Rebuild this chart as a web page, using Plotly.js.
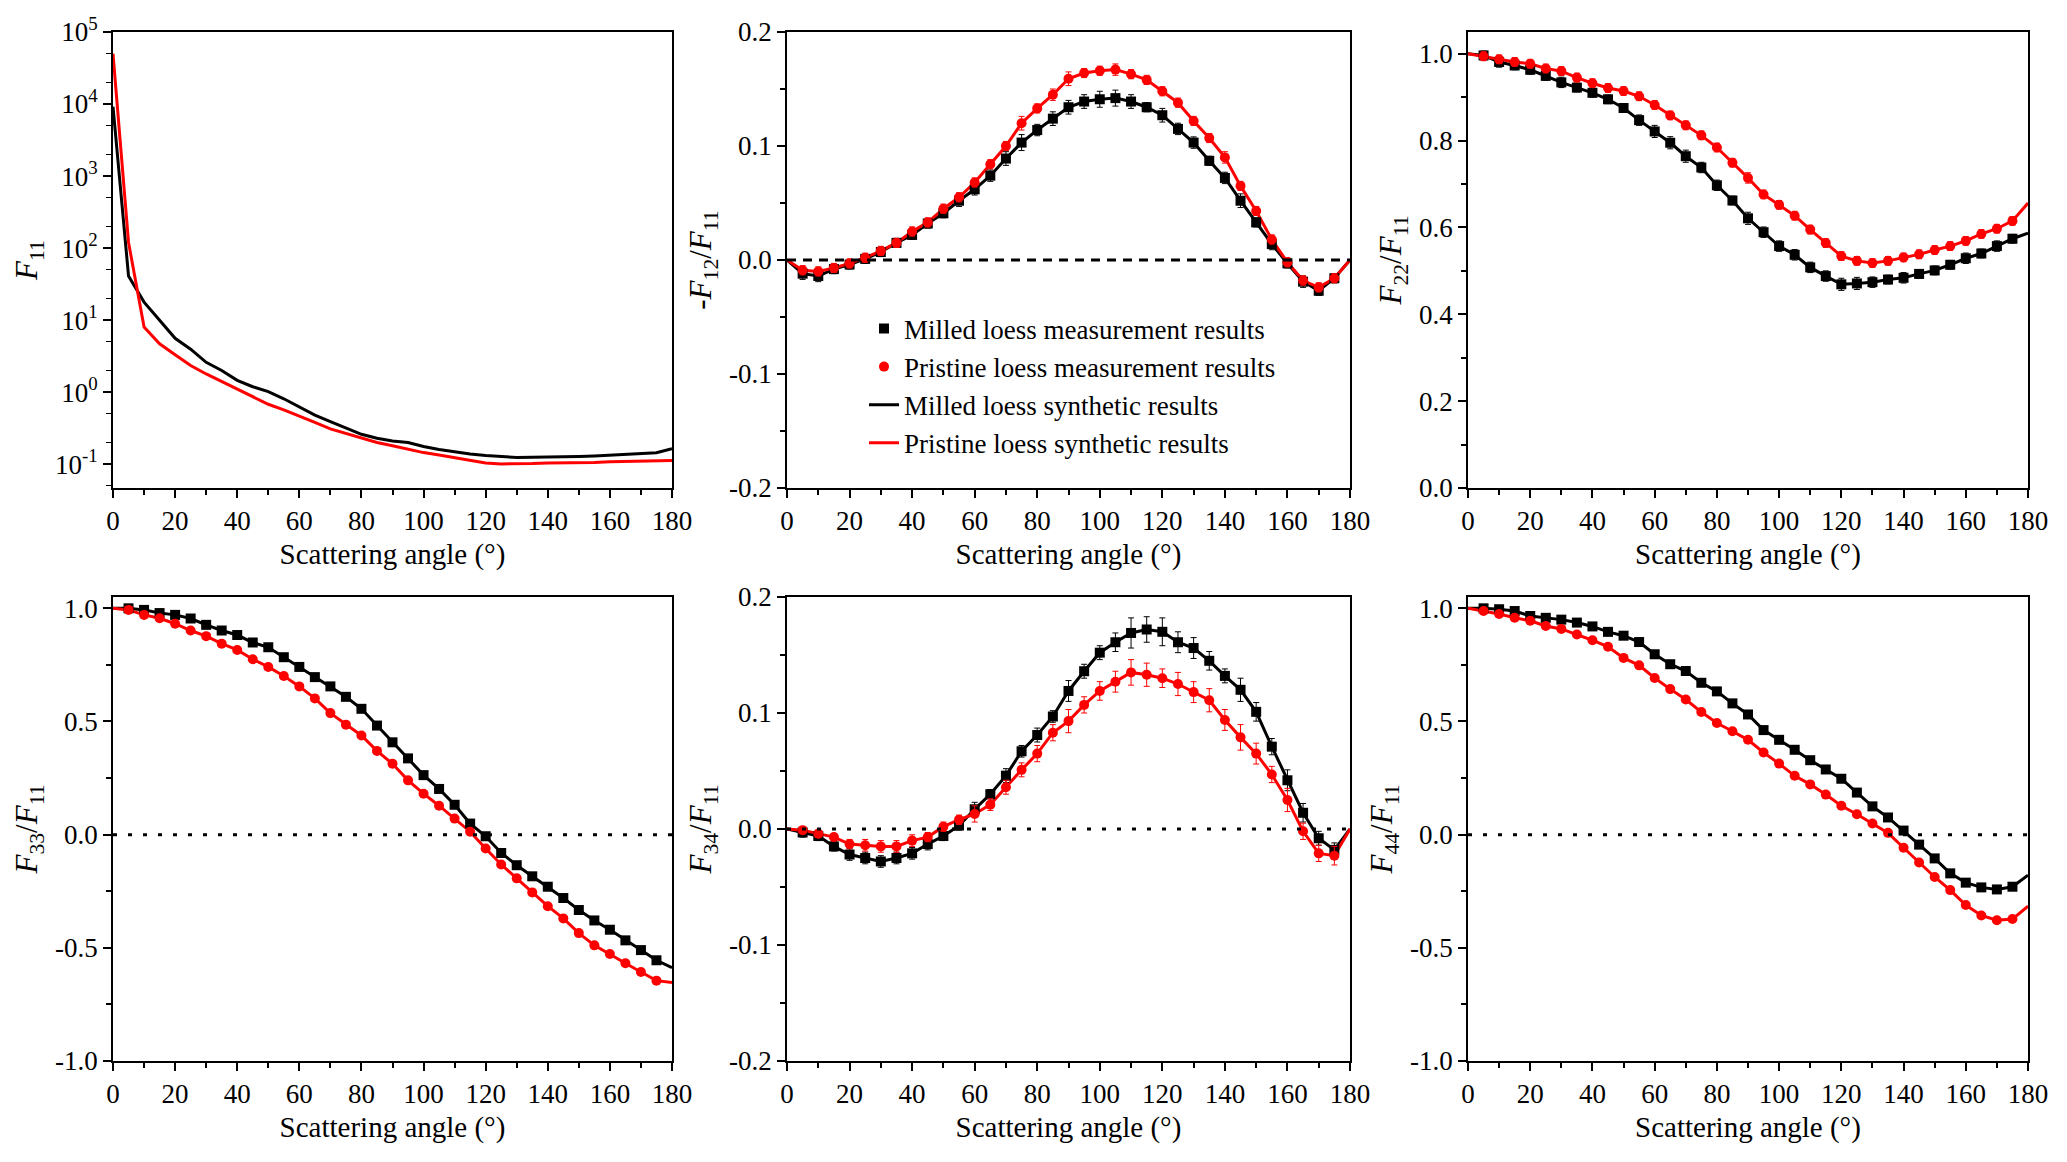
<!DOCTYPE html>
<html>
<head>
<meta charset="utf-8">
<script src="https://cdn.plot.ly/plotly-3.0.1.min.js"></script>
<style>
    html, body { margin: 0; padding: 0; background: #ffffff; }
    #chart { width: 2067px; height: 1162px; }
</style>
</head>
<body>
<div id="chart"></div>
<script>
// measurement angles and synthetic curve angles (degrees)
var angles = [5, 10, 15, 20, 25, 30, 35, 40, 45, 50, 55, 60, 65, 70, 75, 80, 85, 90, 95, 100, 105, 110, 115, 120, 125, 130, 135, 140, 145, 150, 155, 160, 165, 170, 175];
var lineAngles = [0, 5, 10, 15, 20, 25, 30, 35, 40, 45, 50, 55, 60, 65, 70, 75, 80, 85, 90, 95, 100, 105, 110, 115, 120, 125, 130, 135, 140, 145, 150, 155, 160, 165, 170, 175, 180];
var angleTicks = [0, 20, 40, 60, 80, 100, 120, 140, 160, 180];

// F11 (synthetic only, log scale)
var f11Milled = [9200, 41, 17.8, 10.1, 5.6, 3.95, 2.6, 2.0, 1.46, 1.19, 1.02, 0.81, 0.62, 0.48, 0.39, 0.32, 0.26, 0.23, 0.21, 0.2, 0.176, 0.16, 0.148, 0.139, 0.132, 0.127, 0.124, 0.125, 0.127, 0.127, 0.128, 0.13, 0.134, 0.137, 0.14, 0.144, 0.164];
var f11Pristine = [50000, 120, 8.0, 4.7, 3.3, 2.35, 1.79, 1.4, 1.1, 0.86, 0.68, 0.57, 0.47, 0.38, 0.31, 0.27, 0.23, 0.2, 0.18, 0.16, 0.145, 0.134, 0.124, 0.114, 0.104, 0.101, 0.101, 0.102, 0.104, 0.104, 0.105, 0.106, 0.108, 0.109, 0.11, 0.11, 0.113];
var f11TickVals = [0.1, 1, 10, 100, 1000, 10000, 100000];
var f11TickText = ["10<sup>-1</sup>", "10<sup>0</sup>", "10<sup>1</sup>", "10<sup>2</sup>", "10<sup>3</sup>", "10<sup>4</sup>", "10<sup>5</sup>"];

// -F12/F11
var f12Milled = [-0.012, -0.014, -0.008, -0.004, 0.001, 0.007, 0.015, 0.022, 0.032, 0.041, 0.052, 0.062, 0.074, 0.089, 0.103, 0.114, 0.124, 0.134, 0.139, 0.141, 0.142, 0.139, 0.134, 0.127, 0.115, 0.103, 0.087, 0.072, 0.052, 0.033, 0.014, -0.003, -0.019, -0.027, -0.016];
var f12Pristine = [-0.009, -0.01, -0.007, -0.003, 0.002, 0.008, 0.015, 0.025, 0.033, 0.045, 0.055, 0.068, 0.084, 0.1, 0.12, 0.133, 0.145, 0.159, 0.164, 0.166, 0.167, 0.163, 0.158, 0.148, 0.138, 0.122, 0.107, 0.09, 0.065, 0.043, 0.018, -0.002, -0.018, -0.024, -0.016];
var f12MilledErr = [0.005, 0.005, 0.004, 0.004, 0.004, 0.004, 0.004, 0.004, 0.004, 0.004, 0.005, 0.005, 0.005, 0.006, 0.007, 0.005, 0.006, 0.006, 0.006, 0.007, 0.007, 0.006, 0.004, 0.006, 0.005, 0.005, 0.004, 0.005, 0.006, 0.004, 0.005, 0.004, 0.005, 0.004, 0.004];
var f12PristineErr = [0.004, 0.004, 0.004, 0.004, 0.004, 0.004, 0.004, 0.004, 0.004, 0.004, 0.004, 0.004, 0.004, 0.004, 0.006, 0.004, 0.005, 0.006, 0.004, 0.004, 0.005, 0.004, 0.004, 0.004, 0.004, 0.004, 0.004, 0.005, 0.004, 0.004, 0.004, 0.004, 0.004, 0.004, 0.004];

// F22/F11
var f22Milled = [0.996, 0.981, 0.973, 0.963, 0.949, 0.934, 0.922, 0.91, 0.895, 0.875, 0.847, 0.821, 0.795, 0.764, 0.738, 0.697, 0.662, 0.621, 0.589, 0.557, 0.537, 0.508, 0.488, 0.469, 0.471, 0.474, 0.48, 0.484, 0.493, 0.501, 0.514, 0.529, 0.54, 0.557, 0.574];
var f22Pristine = [0.994, 0.987, 0.981, 0.977, 0.966, 0.96, 0.945, 0.932, 0.921, 0.914, 0.902, 0.882, 0.858, 0.835, 0.812, 0.784, 0.749, 0.714, 0.676, 0.652, 0.627, 0.595, 0.564, 0.534, 0.523, 0.518, 0.523, 0.531, 0.538, 0.548, 0.557, 0.569, 0.585, 0.597, 0.615];
var f22MilledErr = [0.01, 0.012, 0.01, 0.01, 0.01, 0.012, 0.01, 0.01, 0.01, 0.01, 0.012, 0.014, 0.014, 0.014, 0.012, 0.012, 0.01, 0.014, 0.012, 0.012, 0.012, 0.012, 0.012, 0.014, 0.014, 0.012, 0.01, 0.012, 0.01, 0.01, 0.01, 0.012, 0.01, 0.012, 0.01];
var f22PristineErr = [0.01, 0.01, 0.01, 0.01, 0.01, 0.01, 0.01, 0.01, 0.01, 0.01, 0.01, 0.01, 0.01, 0.01, 0.01, 0.01, 0.01, 0.012, 0.01, 0.01, 0.01, 0.01, 0.01, 0.01, 0.01, 0.01, 0.01, 0.01, 0.01, 0.01, 0.01, 0.01, 0.01, 0.01, 0.01];

// F33/F11
var f33Milled = [1.0, 0.993, 0.979, 0.971, 0.955, 0.927, 0.902, 0.882, 0.849, 0.828, 0.784, 0.741, 0.696, 0.655, 0.609, 0.556, 0.482, 0.408, 0.337, 0.263, 0.202, 0.132, 0.049, -0.007, -0.081, -0.135, -0.184, -0.23, -0.28, -0.333, -0.379, -0.42, -0.467, -0.51, -0.555];
var f33Pristine = [0.993, 0.971, 0.956, 0.932, 0.902, 0.877, 0.844, 0.816, 0.775, 0.741, 0.701, 0.655, 0.602, 0.537, 0.486, 0.438, 0.37, 0.313, 0.24, 0.181, 0.128, 0.071, 0.013, -0.061, -0.132, -0.193, -0.255, -0.316, -0.37, -0.435, -0.489, -0.527, -0.568, -0.607, -0.645];

// F34/F11
var f34Milled = [-0.003, -0.006, -0.015, -0.022, -0.025, -0.028, -0.025, -0.021, -0.013, -0.006, 0.003, 0.017, 0.03, 0.046, 0.067, 0.081, 0.097, 0.119, 0.136, 0.152, 0.161, 0.169, 0.172, 0.17, 0.161, 0.156, 0.145, 0.132, 0.12, 0.101, 0.071, 0.042, 0.014, -0.008, -0.018];
var f34Pristine = [-0.001, -0.004, -0.007, -0.013, -0.014, -0.015, -0.015, -0.01, -0.007, 0.002, 0.008, 0.013, 0.021, 0.036, 0.051, 0.065, 0.083, 0.093, 0.107, 0.119, 0.127, 0.135, 0.133, 0.13, 0.125, 0.118, 0.111, 0.094, 0.079, 0.065, 0.047, 0.025, -0.002, -0.021, -0.023];
var f34MilledErr = [0.004, 0.004, 0.004, 0.005, 0.005, 0.005, 0.005, 0.005, 0.005, 0.004, 0.004, 0.006, 0.004, 0.006, 0.005, 0.006, 0.005, 0.009, 0.006, 0.006, 0.008, 0.013, 0.011, 0.012, 0.009, 0.009, 0.008, 0.006, 0.01, 0.008, 0.007, 0.009, 0.008, 0.006, 0.006];
var f34PristineErr = [0.003, 0.003, 0.003, 0.004, 0.005, 0.005, 0.005, 0.005, 0.004, 0.004, 0.004, 0.007, 0.005, 0.006, 0.006, 0.007, 0.007, 0.01, 0.007, 0.008, 0.009, 0.011, 0.01, 0.008, 0.01, 0.009, 0.01, 0.009, 0.011, 0.009, 0.007, 0.01, 0.007, 0.007, 0.008];

// F44/F11
var f44Milled = [1.0, 0.996, 0.988, 0.966, 0.958, 0.95, 0.937, 0.92, 0.896, 0.879, 0.851, 0.797, 0.753, 0.723, 0.671, 0.633, 0.58, 0.531, 0.462, 0.419, 0.375, 0.329, 0.288, 0.247, 0.186, 0.125, 0.076, 0.018, -0.044, -0.105, -0.171, -0.212, -0.233, -0.242, -0.23];
var f44Pristine = [0.988, 0.975, 0.958, 0.945, 0.922, 0.909, 0.884, 0.859, 0.83, 0.781, 0.748, 0.692, 0.643, 0.597, 0.542, 0.493, 0.457, 0.419, 0.363, 0.314, 0.26, 0.222, 0.177, 0.128, 0.09, 0.049, 0.008, -0.058, -0.123, -0.187, -0.245, -0.311, -0.357, -0.378, -0.373];

// small error bars hidden under the markers of F33 and F44
var smallErr = [0.008, 0.008, 0.008, 0.008, 0.008, 0.008, 0.008, 0.008, 0.008, 0.008, 0.008, 0.008, 0.008, 0.008, 0.008, 0.008, 0.008, 0.008, 0.008, 0.008, 0.008, 0.008, 0.008, 0.008, 0.008, 0.008, 0.008, 0.008, 0.008, 0.008, 0.008, 0.008, 0.008, 0.008, 0.008];

// synthetic curve values at 0 and 180 degrees
var f12Ends = { milled: [0, 0], pristine: [0, 0] };
var f22Ends = { milled: [1.0, 0.587], pristine: [1.0, 0.656] };
var f33Ends = { milled: [1.0, -0.588], pristine: [1.0, -0.653] };
var f34Ends = { milled: [0, 0], pristine: [0, 0] };
var f44Ends = { milled: [1.0, -0.179], pristine: [1.0, -0.316] };

// tick labels of the linear panels (hyphen minus as in the figure)
var smallTickVals = [-0.2, -0.1, 0, 0.1, 0.2];
var smallTickText = ["-0.2", "-0.1", "0.0", "0.1", "0.2"];
var unitTickVals = [0, 0.2, 0.4, 0.6, 0.8, 1.0];
var unitTickText = ["0.0", "0.2", "0.4", "0.6", "0.8", "1.0"];
var wideTickVals = [-1, -0.5, 0, 0.5, 1];
var wideTickText = ["-1.0", "-0.5", "0.0", "0.5", "1.0"];

var seriesNames = ["Milled loess measurement results", "Pristine loess measurement results", "Milled loess synthetic results", "Pristine loess synthetic results"];

var BLACK = "#000000";
var RED = "#ff0000";
var FONT = "Liberation Serif, Times New Roman, serif";

class MatrixPlot
{
    static synthetic(ends, values)
    {
        return [ends[0]].concat(values, [ends[1]]);
    }

    static lineTrace(n, y, color, name, show)
    {
        return {
            x: lineAngles, y: y, xaxis: "x" + n, yaxis: "y" + n,
            mode: "lines", type: "scatter", name: name,
            legendgroup: name, showlegend: show, legendrank: color == BLACK ? 3 : 4,
            line: { color: color, width: 3 }
        };
    }

    static markerTrace(n, y, err, color, symbol, name, show)
    {
        return {
            x: angles, y: y, xaxis: "x" + n, yaxis: "y" + n,
            mode: "markers", type: "scatter", name: name,
            legendgroup: name, showlegend: show, legendrank: color == BLACK ? 1 : 2,
            marker: { color: color, symbol: symbol, size: 10 },
            error_y: { type: "data", array: err, visible: true, color: color, thickness: 1, width: 3 }
        };
    }

    static panel(n, milled, pristine, ends, milledErr, pristineErr, show)
    {
        return [
            this.lineTrace(n, this.synthetic(ends.milled, milled), BLACK, seriesNames[2], show),
            this.lineTrace(n, this.synthetic(ends.pristine, pristine), RED, seriesNames[3], show),
            this.markerTrace(n, milled, milledErr, BLACK, "square", seriesNames[0], show),
            this.markerTrace(n, pristine, pristineErr, RED, "circle", seriesNames[1], show)
        ];
    }

    static xAxis(n, left, right)
    {
        return {
            domain: [left / 2067, right / 2067], anchor: "y" + n,
            range: [0, 180], tickmode: "array", tickvals: angleTicks,
            ticks: "outside", ticklen: 8, tickwidth: 1.5, tickcolor: BLACK,
            minor: { dtick: 10, ticks: "outside", ticklen: 5, tickwidth: 1.5, tickcolor: BLACK },
            showline: true, linewidth: 1.8, linecolor: BLACK, mirror: true,
            showgrid: false, zeroline: false,
            tickfont: { family: FONT, size: 27, color: BLACK },
            title: { text: "Scattering angle (°)", standoff: 8, font: { family: FONT, size: 29, color: BLACK } }
        };
    }

    static yAxis(n, top, bottom, title, range, tickVals, tickText, minorDtick)
    {
        return {
            domain: [1 - bottom / 1162, 1 - top / 1162], anchor: "x" + n,
            range: range, tickmode: "array", tickvals: tickVals, ticktext: tickText,
            ticks: "outside", ticklen: 8, tickwidth: 1.5, tickcolor: BLACK,
            minor: { dtick: minorDtick, ticks: "outside", ticklen: 5, tickwidth: 1.5, tickcolor: BLACK },
            showline: true, linewidth: 1.8, linecolor: BLACK, mirror: true,
            showgrid: false, zeroline: false,
            tickfont: { family: FONT, size: 27, color: BLACK },
            title: { text: title, standoff: 8, font: { family: FONT, size: 31, color: BLACK } }
        };
    }

    static zeroLine(n, dash)
    {
        return {
            type: "line", xref: "x" + n, yref: "y" + n,
            x0: 0, x1: 180, y0: 0, y1: 0,
            line: { color: BLACK, width: 3, dash: dash }
        };
    }
}

var rowTop = [32, 597];
var rowBottom = [488, 1061];
var colLeft = [113, 787, 1468];
var colRight = [672, 1350, 2028];

var plotData = [];

plotData.push(
    {
        x: lineAngles, y: f11Milled, xaxis: "x1", yaxis: "y1", mode: "lines", type: "scatter",
        showlegend: false, line: { color: BLACK, width: 3 }
    },
    {
        x: lineAngles, y: f11Pristine, xaxis: "x1", yaxis: "y1", mode: "lines", type: "scatter",
        showlegend: false, line: { color: RED, width: 3 }
    }
);

plotData = plotData.concat(
    MatrixPlot.panel(2, f12Milled, f12Pristine, f12Ends, f12MilledErr, f12PristineErr, true),
    MatrixPlot.panel(3, f22Milled, f22Pristine, f22Ends, f22MilledErr, f22PristineErr, false),
    MatrixPlot.panel(4, f33Milled, f33Pristine, f33Ends, smallErr, smallErr, false),
    MatrixPlot.panel(5, f34Milled, f34Pristine, f34Ends, f34MilledErr, f34PristineErr, false),
    MatrixPlot.panel(6, f44Milled, f44Pristine, f44Ends, smallErr, smallErr, false)
);

var layout = {
    width: 2067, height: 1162,
    margin: { l: 0, r: 0, t: 0, b: 0 },
    paper_bgcolor: "#ffffff", plot_bgcolor: "#ffffff",
    font: { family: FONT, color: BLACK },
    showlegend: true,
    legend: {
        x: 0.418, y: 0.738, xanchor: "left", yanchor: "top",
        bgcolor: "rgba(0,0,0,0)", borderwidth: 0,
        traceorder: "grouped", tracegroupgap: 0,
        font: { family: FONT, size: 27, color: BLACK }
    },
    shapes: [
        MatrixPlot.zeroLine(2, "9px,7px"),
        MatrixPlot.zeroLine(4, "4px,11px"),
        MatrixPlot.zeroLine(5, "4px,11px"),
        MatrixPlot.zeroLine(6, "4px,11px")
    ]
};

var titles = [
    "<i>F</i><sub>11</sub>",
    "-<i>F</i><sub>12</sub>/<i>F</i><sub>11</sub>",
    "<i>F</i><sub>22</sub>/<i>F</i><sub>11</sub>",
    "<i>F</i><sub>33</sub>/<i>F</i><sub>11</sub>",
    "<i>F</i><sub>34</sub>/<i>F</i><sub>11</sub>",
    "<i>F</i><sub>44</sub>/<i>F</i><sub>11</sub>"
];
var yRanges = [[-1.33, 5], [-0.2, 0.2], [0, 1.05], [-1, 1.05], [-0.2, 0.2], [-1, 1.05]];
var yTickVals = [f11TickVals, smallTickVals, unitTickVals, wideTickVals, smallTickVals, wideTickVals];
var yTickText = [f11TickText, smallTickText, unitTickText, wideTickText, smallTickText, wideTickText];
var yMinor = [null, 0.05, 0.1, 0.25, 0.05, 0.25];

for (var n = 1; n <= 6; n++)
{
    var row = n <= 3 ? 0 : 1;
    var col = (n - 1) % 3;
    layout["xaxis" + n] = MatrixPlot.xAxis(n, colLeft[col], colRight[col]);
    layout["yaxis" + n] = MatrixPlot.yAxis(n, rowTop[row], rowBottom[row], titles[n - 1], yRanges[n - 1], yTickVals[n - 1], yTickText[n - 1], yMinor[n - 1]);
}

// the F11 panel uses a log scale
layout.yaxis1.type = "log";
layout.yaxis1.minor = { ticks: "outside", ticklen: 5, tickwidth: 1.2, tickcolor: BLACK };

var config = { displayModeBar: false, responsive: false };

Plotly.newPlot("chart", plotData, layout, config);
</script>
</body>
</html>
